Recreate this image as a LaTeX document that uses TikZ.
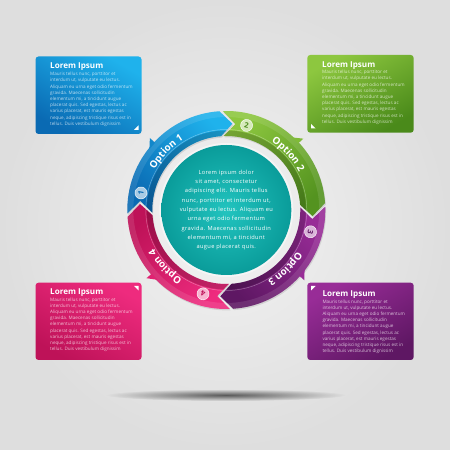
\documentclass[tikz,border=0pt]{standalone}
\usepackage{fontspec}
\setmainfont{Open Sans}
\newfontfamily\ctrfont[LetterSpace=6]{Open Sans}
\newfontfamily\optfont{Open Sans}
\usetikzlibrary{decorations.text,fadings}
\tikzfading[name=shadowfade, inner color=transparent!0, outer color=transparent!100]
\definecolor{bgin}{HTML}{F3F3F3}
\definecolor{bgout}{HTML}{DEDEDE}
\definecolor{bluel}{HTML}{1FB2EC}
\definecolor{blued}{HTML}{0A6AB3}
\definecolor{greenl}{HTML}{8DC73F}
\definecolor{greend}{HTML}{4A8A1A}
\definecolor{pinkl}{HTML}{EE2B7E}
\definecolor{pinkd}{HTML}{BE1258}
\definecolor{purpl}{HTML}{982C97}
\definecolor{purpd}{HTML}{5E1763}
\definecolor{teall}{HTML}{22C4BF}
\definecolor{teald}{HTML}{0A9C9A}
\newcommand\bodytext{Mauris tellus nunc, porttitor et\\interdum ut, vulputate eu lectus.\\Aliquam eu urna eget odio fermentum\\gravida. Maecenas sollicitudin\\elementum mi, a tincidunt augue\\placerat quis. Sed egestas, lectus ac\\varius placerat, est mauris egestas\\neque, adipiscing tristique risus est in\\tellus. Duis vestibulum dignissim}
\begin{document}
\begin{tikzpicture}[x=1pt,y=1pt,
  boxshape/.style={rounded corners=3pt},
  ttl/.style={anchor=base west, inner sep=0pt, text=white, font=\bfseries\fontsize{8.1}{9}\selectfont},
  bodytxt/.style={anchor=north west, inner sep=0pt, align=left, text=white, text opacity=.72, font=\fontsize{4.6}{6.2}\selectfont},
  corner/.style={fill=white},
  seg/.style 2 args={insert path={(#1:99pt) arc[start angle=#1, end angle=#2, radius=99pt] -- ({#2-8}:86.5pt) -- (#2:74pt) arc[start angle=#2, end angle=#1, radius=74pt] -- ({#1-8}:86.5pt) -- cycle}},
  numc/.style={circle, fill=white, fill opacity=.65, text opacity=1, draw=white, draw opacity=.9, line width=.5pt, minimum size=12pt, inner sep=0pt, font=\bfseries\fontsize{7.4}{8}\selectfont},
  opt/.style={decorate, decoration={text along path, text align=center, text color=white, text={|\optfont\bfseries\fontsize{9.8}{10}\selectfont|#1}}}
]
\useasboundingbox (0,0) rectangle (450,450);
% background
\shade[inner color=bgin, outer color=bgout] (0,0) rectangle (450,450);
% shadow
\fill[black, opacity=.6, path fading=shadowfade] (226,55) ellipse [x radius=120pt, y radius=6pt];

% ---------- boxes ----------
\shade[boxshape, top color=bluel, bottom color=blued, shading angle=-30] (35.5,316) rectangle (141.5,393.5);
\shade[boxshape, top color=greenl, bottom color=greend, shading angle=30] (307.3,317.3) rectangle (413.7,395);
\shade[boxshape, top color=pinkl, bottom color=pinkd, shading angle=-30] (35.5,90) rectangle (141.5,167.3);
\shade[boxshape, top color=purpl, bottom color=purpd, shading angle=30] (307.3,90) rectangle (413.7,167.3);

\fill[corner] (138.5,320) -- (134,320) -- (138.5,324.5) -- cycle;
\fill[corner] (311,321.7) -- (315.5,321.7) -- (311,326.2) -- cycle;
\fill[corner] (138.5,164) -- (134,164) -- (138.5,159.5) -- cycle;
\fill[corner] (311,164) -- (315.5,164) -- (311,159.5) -- cycle;

\node[ttl] (t1) at (50,381) {Lorem Ipsum};
\node[ttl] (t2) at (322,382.5) {Lorem Ipsum};
\node[ttl] (t4) at (50,155) {Lorem Ipsum};
\node[ttl] (t3) at (322.3,153) {Lorem Ipsum};
\node[bodytxt] (b1) at (50,378) {\bodytext};
\node[bodytxt] (b2) at (322,380) {\bodytext};
\node[bodytxt] (b4) at (50,152.5) {\bodytext};
\node[bodytxt] (b3) at (322.3,150.5) {\bodytext};

% ---------- ring ----------
\begin{scope}[shift={(226.3,240)}]
  % shadows
  \foreach \a/\b in {182/94, 92/4, 2/-86, -88/-176}
    \fill[black, opacity=.10, xshift=.8pt, yshift=-1.4pt, seg={\a}{\b}];
  % segments
  \shade[top color=bluel, bottom color=blued, shading angle=-45, seg={182}{94}];
  \shade[top color=greenl, bottom color=greend!85!greenl, shading angle=45, seg={92}{4}];
  \shade[top color=purpl, bottom color=purpd, shading angle=-45, seg={2}{-86}];
  \shade[top color=pinkl, bottom color=pinkd, shading angle=225, seg={-88}{-176}];
  % inner shading strip and line
  \foreach \a/\b in {182/94, 92/4, 2/-86, -88/-176}{
    \begin{scope}
      \clip[seg={\a}{\b}];
      \fill[black, opacity=.18, even odd rule] (0,0) circle (79.5pt) (0,0) circle (74pt);
      \draw[white, opacity=.35, line width=.5pt] (0,0) circle (80.5pt);
      \fill[white, opacity=.10, even odd rule] (0,0) circle (99pt) (0,0) circle (93pt);
    \end{scope}
  }
  % small outer tabs
  \fill[blued!60!bluel] (136.7:98pt) -- (141.7:98pt) -- (136.7:105pt) -- cycle;
  \fill[greenl!80!greend] (42.8:98pt) -- (47.8:98pt) -- (42.8:105pt) -- cycle;
  \fill[purpl] (-42:98pt) -- (-37:98pt) -- (-42:105pt) -- cycle;
  \fill[pinkl!70!pinkd] (-139.5:98pt) -- (-134.5:98pt) -- (-139.5:105pt) -- cycle;
  % option labels
  \path[opt={Option 1}] (181:82pt) arc[start angle=181, end angle=91, radius=82pt];
  \path[opt={Option 2}] (87:82pt) arc[start angle=87, end angle=-3, radius=82pt];
  \path[opt={Option 3}] (0:82pt) arc[start angle=0, end angle=-90, radius=82pt];
  \path[opt={Option 4}] (-92:82pt) arc[start angle=-92, end angle=-182, radius=82pt];
  % numbers
  \node[numc, text=blued, rotate=78.7] (n1) at (168.7:87pt) {1};
  \node[numc, text=greend, rotate=-13.5] (n2) at (76.5:87pt) {2};
  \node[numc, text=purpd, rotate=-104.5] (n3) at (-14.5:87pt) {3};
  \node[numc, text=pinkd, rotate=-195.5] (n4) at (-105.5:87pt) {4};
  % centre
  \fill[white, opacity=.45] (0,0) circle (67pt);
  \shade[inner color=teall, outer color=teald] (0,0) circle (65pt);
  \node[align=center, text=white, inner sep=0pt, font=\ctrfont\fontsize{5.7}{9.33}\selectfont] (ctext) at (0,0)
    {Lorem ipsum dolor\\sit amet, consectetur\\adipiscing elit. Mauris tellus\\nunc, porttitor et interdum ut,\\vulputate eu lectus. Aliquam eu\\urna eget odio fermentum\\gravida. Maecenas sollicitudin\\elementum mi, a tincidunt\\augue placerat quis.};
\end{scope}
\end{tikzpicture}
\end{document}
